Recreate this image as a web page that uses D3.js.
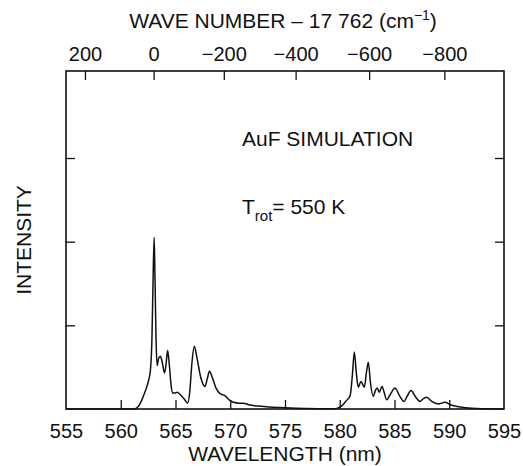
<!DOCTYPE html>
<html>
<head>
    <meta charset="utf-8">
    <title>AuF simulation</title>
    <script src="https://d3js.org/d3.v7.min.js"></script>
    <style>
        body {
            margin: 0;
            background-color: #ffffff;
        }

        text {
            font-family: "Liberation Sans", Arial, sans-serif;
            fill: #111;
        }

        .axis path {
            display: none;
        }

        .axis line {
            stroke: #111;
            stroke-width: 1.3;
        }
    </style>
</head>

<body>
    <script>
        var width = 523;
        var height = 466;

        // simulated spectrum
        var wavelength = [555, 561.2, 561.6, 561.9, 562.2, 562.5, 562.7, 562.85, 562.96, 563.05,
            563.13, 563.22, 563.32, 563.45, 563.62, 563.8, 564.0, 564.15, 564.28, 564.42,
            564.6, 564.75, 564.95, 565.15, 565.45, 565.8, 566.1, 566.3, 566.5, 566.72,
            566.95, 567.3, 567.7, 567.9, 568.1, 568.35, 568.7, 569.1, 569.5, 569.9,
            570.3, 570.8, 571.2, 571.7, 572.5, 573.5, 574.5, 576, 578, 579.5,
            579.8, 580.2, 580.6, 580.95, 581.15, 581.33, 581.5, 581.69, 581.94, 582.24,
            582.45, 582.61, 582.8, 583.06, 583.25, 583.43, 583.61, 583.86, 584.05, 584.29,
            584.6, 585.05, 585.45, 585.87, 586.15, 586.51, 586.9, 587.33, 587.6, 587.94,
            588.4, 589.0, 589.61, 590.1, 590.7, 591.5, 592.5, 595];
        var intensity = [0, 0, 0.03, 0.1, 0.2, 0.32, 0.45, 0.85, 1.6, 2.05,
            1.55, 0.85, 0.52, 0.6, 0.63, 0.55, 0.43, 0.55, 0.70, 0.55,
            0.28, 0.19, 0.19, 0.2, 0.17, 0.12, 0.07, 0.2, 0.55, 0.75,
            0.62, 0.38, 0.27, 0.36, 0.45, 0.38, 0.25, 0.18, 0.16, 0.11,
            0.08, 0.07, 0.07, 0.05, 0.035, 0.025, 0.018, 0.01, 0.004, 0.002,
            0.01, 0.04, 0.1, 0.16, 0.4, 0.68, 0.45, 0.26, 0.33, 0.26,
            0.45, 0.56, 0.32, 0.15, 0.22, 0.25, 0.2, 0.27, 0.2, 0.11,
            0.17, 0.25, 0.16, 0.09, 0.15, 0.22, 0.15, 0.09, 0.12, 0.14,
            0.09, 0.06, 0.08, 0.05, 0.03, 0.015, 0.005, 0];

        var bottomTicks = [560, 565, 570, 575, 580, 585, 590];
        var bottomLabels = [555, 560, 565, 570, 575, 580, 585, 590, 595];
        var waveNumberTicks = [200, 0, -200, -400, -600, -800];
        var yTicks = [1, 2, 3];
        var origin = 17762;

        var margin = { left: 66, right: 19, top: 71, bottom: 57 };

        var x = d3.scaleLinear().domain([555, 595]).range([margin.left, width - margin.right]);
        var y = d3.scaleLinear().domain([0, 4.04]).range([height - margin.bottom, margin.top]);

        var toNm = function (w) { return 1e7 / (origin + w); };

        var svg = d3.select("body")
            .append("svg")
            .attr("width", width)
            .attr("height", height);

        // bottom ticks (inside) and labels
        svg.append("g")
            .attr("class", "axis")
            .attr("transform", "translate(0," + y(0) + ")")
            .call(d3.axisBottom(x).tickValues(bottomTicks).tickSize(-9).tickFormat(""));

        svg.append("g")
            .attr("class", "axis")
            .attr("transform", "translate(0," + y(0) + ")")
            .call(d3.axisBottom(x).tickValues(bottomLabels).tickSize(0).tickPadding(15))
            .selectAll("text")
            .style("font-size", "20px");

        // top wave number axis
        var topAxis = svg.append("g")
            .attr("class", "axis")
            .attr("transform", "translate(0," + y(4.04) + ")")
            .call(d3.axisTop(x)
                .tickValues(waveNumberTicks.map(toNm))
                .tickSizeInner(-9)
                .tickPadding(10)
                .tickFormat(function (d) { return d3.format("d")(Math.round(1e7 / d - origin)); }));
        topAxis.selectAll("text").style("font-size", "20px");

        // left and right ticks, no labels
        svg.append("g")
            .attr("class", "axis")
            .attr("transform", "translate(" + x(555) + ",0)")
            .call(d3.axisLeft(y).tickValues(yTicks).tickSize(-9).tickFormat(""));
        svg.append("g")
            .attr("class", "axis")
            .attr("transform", "translate(" + x(595) + ",0)")
            .call(d3.axisRight(y).tickValues(yTicks).tickSize(-9).tickFormat(""));

        // frame
        svg.append("rect")
            .attr("x", x(555))
            .attr("y", y(4.04))
            .attr("width", x(595) - x(555))
            .attr("height", y(0) - y(4.04))
            .attr("fill", "none")
            .attr("stroke", "#111")
            .attr("stroke-width", 1.6);

        // spectrum
        var line = d3.line()
            .x(function (d, i) { return x(d); })
            .y(function (d, i) { return y(intensity[i]); })
            .curve(d3.curveMonotoneX);

        svg.append("path")
            .attr("d", line(wavelength))
            .attr("fill", "none")
            .attr("stroke", "#111")
            .attr("stroke-width", 1.5);

        // titles
        svg.append("text")
            .attr("x", x(575))
            .attr("y", 461)
            .attr("text-anchor", "middle")
            .style("font-size", "21px")
            .text("WAVELENGTH (nm)");

        var topTitle = svg.append("text")
            .attr("x", 283)
            .attr("y", 28)
            .attr("text-anchor", "middle")
            .style("font-size", "21px");
        topTitle.append("tspan").text("WAVE NUMBER \u2013 17 762 (cm");
        topTitle.append("tspan").attr("dy", -8).style("font-size", "14px").text("\u22121");
        topTitle.append("tspan").attr("dy", 8).text(")");

        svg.append("text")
            .attr("transform", "translate(31," + ((y(0) + y(4.04)) / 2) + ") rotate(-90)")
            .attr("text-anchor", "middle")
            .style("font-size", "21px")
            .text("INTENSITY");

        svg.append("text")
            .attr("x", 242)
            .attr("y", 146)
            .style("font-size", "21px")
            .text("AuF SIMULATION");

        var trot = svg.append("text")
            .attr("x", 242)
            .attr("y", 214)
            .style("font-size", "21px");
        trot.append("tspan").text("T");
        trot.append("tspan").attr("dy", 7).style("font-size", "15px").text("rot");
        trot.append("tspan").attr("dy", -7).text("= 550 K");
    </script>
</body>

</html>
